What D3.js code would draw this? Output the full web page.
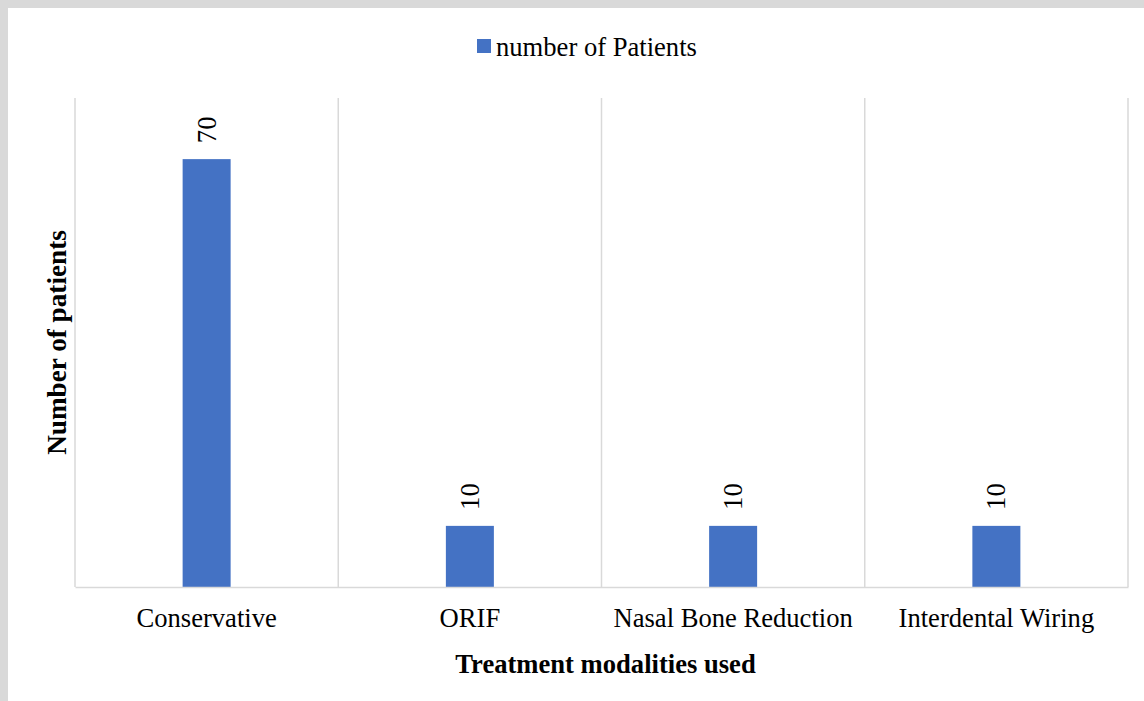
<!DOCTYPE html>
<html>
<head>
<meta charset="utf-8">
<script src="https://cdn.jsdelivr.net/npm/d3@7/dist/d3.min.js"></script>
<style>
  html, body { margin: 0; padding: 0; background: #ffffff; }
  svg { display: block; }
  text { font-family: "Liberation Serif", "Times New Roman", serif; fill: #000; }
</style>
</head>
<body>
<svg id="chart" width="1144" height="701"></svg>
<script>
// Treatment modalities and patient counts
const categories = ["Conservative", "ORIF", "Nasal Bone Reduction", "Interdental Wiring"];
const patients = [70, 10, 10, 10];
const seriesName = "number of Patients";
const xTitle = "Treatment modalities used";
const yTitle = "Number of patients";
const yDomain = [0, 80];

const W = 1144, H = 701;
const plot = { left: 75, right: 1128, top: 98, bottom: 587 };
const barColor = "#4472c4";
const gridColor = "#d9d9d9";
const fs = 26.6;

const svg = d3.select("#chart");

// outer frame: grey strip along top and left edges
svg.append("rect").attr("x", 0).attr("y", 0).attr("width", W).attr("height", H).attr("fill", "#d9d9d9");
svg.append("rect").attr("x", 8).attr("y", 8).attr("width", W - 8).attr("height", H - 8).attr("fill", "#ffffff");

const x = d3.scaleBand().domain(categories).range([plot.left, plot.right]).paddingInner(0).paddingOuter(0);
const y = d3.scaleLinear().domain(yDomain).range([plot.bottom, plot.top]);
const barW = 48;

// vertical gridlines at category boundaries
const bounds = categories.map(c => x(c)).concat([x(categories[categories.length - 1]) + x.bandwidth()]);
svg.append("g").selectAll("line").data(bounds).join("line")
  .attr("x1", d => d).attr("x2", d => d)
  .attr("y1", plot.top).attr("y2", plot.bottom)
  .attr("stroke", gridColor).attr("stroke-width", 1.5);

// bars
svg.append("g").selectAll("rect").data(categories).join("rect")
  .attr("x", c => x(c) + x.bandwidth() / 2 - barW / 2)
  .attr("width", barW)
  .attr("y", (c, i) => y(patients[i]))
  .attr("height", (c, i) => y(0) - y(patients[i]))
  .attr("fill", barColor);

// baseline axis with category labels
const xAxis = svg.append("g")
  .attr("transform", `translate(0,${plot.bottom})`)
  .call(d3.axisBottom(x).tickSize(0).tickPadding(21));
xAxis.select(".domain").attr("stroke", gridColor).attr("stroke-width", 1.5);
xAxis.selectAll(".tick text")
  .attr("font-size", fs)
  .attr("font-family", "Liberation Serif, Times New Roman, serif")
  .attr("fill", "#000")
  .attr("dy", "0.71em");

// value labels, rotated
svg.append("g").selectAll("text").data(categories).join("text")
  .attr("transform", (c, i) => `translate(${x(c) + x.bandwidth() / 2},${y(patients[i]) - 16}) rotate(-90)`)
  .attr("text-anchor", "start")
  .attr("dominant-baseline", "central")
  .attr("font-size", fs)
  .text((c, i) => patients[i]);

// axis titles
svg.append("text")
  .attr("x", (plot.left + plot.right) / 2 + 4)
  .attr("y", 673)
  .attr("text-anchor", "middle")
  .attr("font-size", fs)
  .attr("font-weight", "bold")
  .text(xTitle);

svg.append("text")
  .attr("transform", `translate(66,${(plot.top + plot.bottom) / 2}) rotate(-90)`)
  .attr("text-anchor", "middle")
  .attr("font-size", 27.2)
  .attr("font-weight", "bold")
  .text(yTitle);

// legend
const legend = svg.append("g");
legend.append("rect").attr("x", 477).attr("y", 39).attr("width", 14).attr("height", 14).attr("fill", barColor);
legend.append("text").attr("x", 496).attr("y", 56).attr("font-size", fs).text(seriesName);
</script>
</body>
</html>
